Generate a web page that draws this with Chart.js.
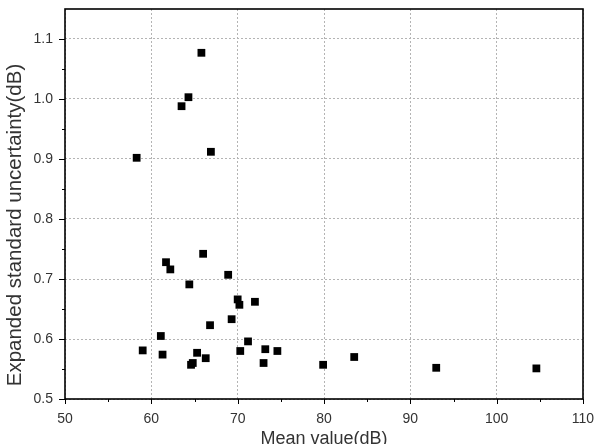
<!DOCTYPE html>
<html lang="en">
<head>
  <meta charset="UTF-8">
  <title>Expanded standard uncertainty</title>
  <script src="https://cdn.jsdelivr.net/npm/chart.js"></script>
  <style>
    html, body { margin: 0; padding: 0; background: #fff; }
    #wrap { width: 594px; height: 444px; }
  </style>
</head>
<body>
  <div id="wrap"><canvas id="scatter" width="594" height="444"></canvas></div>

  <script>
    // values
    const meanValues = [58.3, 63.5, 64.3, 65.8, 66.9, 59.0, 61.1, 61.3, 61.7, 62.2,
                        64.4, 64.6, 64.8, 65.3, 66.0, 66.3, 66.8, 68.9, 69.3, 70.0,
                        70.2, 70.3, 71.2, 72.0, 73.0, 73.2, 74.6, 79.9, 83.5, 93.0, 104.6];
    const uncertainty = [0.902, 0.988, 1.003, 1.077, 0.912, 0.581, 0.605, 0.574, 0.728, 0.716,
                         0.691, 0.557, 0.560, 0.577, 0.742, 0.568, 0.623, 0.707, 0.633, 0.666,
                         0.657, 0.580, 0.596, 0.662, 0.560, 0.583, 0.580, 0.557, 0.570, 0.552, 0.551];
    const xTicks = [50, 60, 70, 80, 90, 100, 110];
    const yTicks = [0.5, 0.6, 0.7, 0.8, 0.9, 1.0, 1.1];
    const xMinor = [55, 65, 75, 85, 95, 105];
    const yMinor = [0.55, 0.65, 0.75, 0.85, 0.95, 1.05];

    const points = meanValues.map((x, i) => ({ x: x, y: uncertainty[i] }));

    // frame, outward ticks and the y title (drawn like Origin does)
    const frame = {
      id: "frame",
      afterDraw(chart) {
        const { ctx, chartArea: a, scales: { x, y } } = chart;
        ctx.save();
        ctx.strokeStyle = "#000";
        ctx.lineWidth = 1;
        ctx.beginPath();
        xTicks.forEach(v => { const p = Math.round(x.getPixelForValue(v)) + 0.5; ctx.moveTo(p, a.bottom); ctx.lineTo(p, a.bottom + 5); });
        xMinor.forEach(v => { const p = Math.round(x.getPixelForValue(v)) + 0.5; ctx.moveTo(p, a.bottom); ctx.lineTo(p, a.bottom + 3); });
        yTicks.forEach(v => { const p = Math.round(y.getPixelForValue(v)) + 0.5; ctx.moveTo(a.left, p); ctx.lineTo(a.left - 6, p); });
        yMinor.forEach(v => { const p = Math.round(y.getPixelForValue(v)) + 0.5; ctx.moveTo(a.left, p); ctx.lineTo(a.left - 3, p); });
        ctx.stroke();

        ctx.lineWidth = 1.6;
        ctx.strokeRect(a.left, a.top, a.right - a.left, a.bottom - a.top);

        ctx.fillStyle = "#333";
        ctx.font = "20.5px 'Liberation Sans', Arial, sans-serif";
        ctx.textAlign = "center";
        ctx.textBaseline = "middle";
        ctx.translate(15, 225);
        ctx.rotate(-Math.PI / 2);
        ctx.fillText("Expanded standard uncertainty(dB)", 0, 0);
        ctx.restore();
      }
    };

    const ctx = document.getElementById("scatter").getContext("2d");
    new Chart(ctx, {
      type: "scatter",
      data: {
        datasets: [{
          label: "Uncertainty",
          data: points,
          pointStyle: "rect",
          pointRadius: 5.5,
          pointHoverRadius: 5.5,
          pointBorderWidth: 0,
          backgroundColor: "#000",
          borderColor: "#000"
        }]
      },
      options: {
        responsive: false,
        animation: false,
        layout: { padding: { left: 0, right: 11, top: 9, bottom: 0 } },
        plugins: { legend: { display: false }, tooltip: { enabled: false } },
        scales: {
          x: {
            type: "linear",
            min: 50,
            max: 110,
            afterBuildTicks: s => { s.ticks = xTicks.map(v => ({ value: v })); },
            afterFit: s => { s.height = 45; s.paddingLeft = 0; s.paddingRight = 0; },
            grid: { color: "#b4b4b4", lineWidth: 1, drawTicks: false },
            border: { display: false, dash: [2, 2] },
            ticks: {
              padding: 12,
              color: "#333",
              font: { family: "'Liberation Sans', Arial, sans-serif", size: 14 },
              callback: v => String(v)
            },
            title: {
              display: true,
              text: "Mean value(dB)",
              color: "#333",
              padding: { top: 0, bottom: -4 },
              font: { family: "'Liberation Sans', Arial, sans-serif", size: 18, lineHeight: 1 }
            }
          },
          y: {
            type: "linear",
            min: 0.5,
            max: 1.15,
            afterBuildTicks: s => { s.ticks = yTicks.map(v => ({ value: v })); },
            afterFit: s => { s.width = 65; s.paddingTop = 0; s.paddingBottom = 0; },
            grid: { color: "#b4b4b4", lineWidth: 1, drawTicks: false },
            border: { display: false, dash: [2, 2] },
            ticks: {
              padding: 12,
              color: "#333",
              font: { family: "'Liberation Sans', Arial, sans-serif", size: 14 },
              callback: v => v.toFixed(1)
            }
          }
        }
      },
      plugins: [frame]
    });
  </script>
</body>
</html>
